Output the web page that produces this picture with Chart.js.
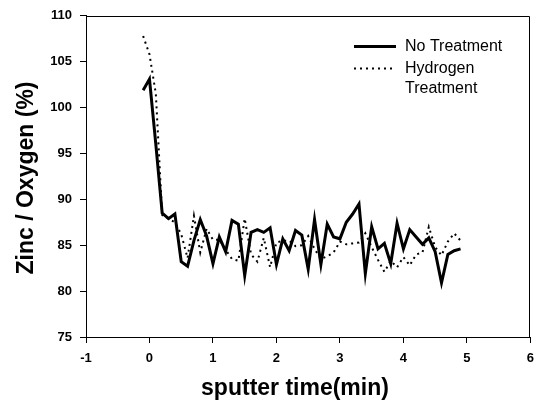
<!DOCTYPE html>
<html>
<head>
<meta charset="utf-8">
<script src="https://cdn.jsdelivr.net/npm/chart.js@4.4.1/dist/chart.umd.min.js"></script>
<style>
  body { margin: 0; background: #fff; }
</style>
</head>
<body>
<canvas id="zincChart" width="542" height="405"></canvas>
<script>
// ---- data ----
const sputterTime = [-0.1, 0.0, 0.1, 0.2, 0.3, 0.4, 0.5, 0.6, 0.7, 0.8, 0.9,
  1.0, 1.1, 1.2, 1.3, 1.4, 1.5, 1.6, 1.7, 1.8, 1.9,
  2.0, 2.1, 2.2, 2.3, 2.4, 2.5, 2.6, 2.7, 2.8, 2.9,
  3.0, 3.1, 3.2, 3.3, 3.4, 3.5, 3.6, 3.7, 3.8, 3.9,
  4.0, 4.1, 4.2, 4.3, 4.4, 4.5, 4.6, 4.7, 4.8, 4.9];

const noTreatment = [101.9, 103.1, 96.0, 88.5, 87.9, 88.4, 83.2, 82.7, 85.5, 87.8, 86.0,
  83.0, 85.9, 84.3, 87.7, 87.3, 81.7, 86.4, 86.7, 86.4, 86.9,
  82.9, 85.7, 84.4, 86.6, 86.1, 82.4, 87.8, 82.9, 87.3, 85.9,
  85.7, 87.5, 88.4, 89.5, 81.9, 87.0, 84.6, 85.2, 83.0, 87.4,
  84.6, 86.7, 85.9, 85.1, 85.8, 84.3, 80.9, 84.0, 84.4, 84.6];

const hydrogenTreatment = [107.8, 105.8, 101.5, 88.3, 87.9, 87.5, 86.2, 83.6, 88.2, 84.2, 86.8,
  85.6, 85.6, 84.5, 83.5, 83.3, 87.9, 84.0, 83.2, 85.8, 82.6,
  85.3, 85.5, 85.5, 84.9, 85.0, 86.0, 84.6, 83.5, 83.8, 84.2,
  85.4, 85.1, 85.2, 85.3, 86.3, 84.8, 83.4, 82.1, 83.3, 82.6,
  83.7, 82.8, 84.0, 84.2, 87.0, 84.8, 83.9, 85.4, 86.3, 85.5];

const xTicks = [-1, 0, 1, 2, 3, 4, 5, 6];
const yTicks = [75, 80, 85, 90, 95, 100, 105, 110];

const seriesNames = ["No Treatment", ["Hydrogen", "Treatment"]];

// ---- frame, legend and axis titles ----
const extras = {
  id: "extras",
  afterDraw(chart) {
    const ctx = chart.ctx;
    const a = chart.chartArea;
    ctx.save();
    ctx.strokeStyle = "#000";
    ctx.lineWidth = 1;
    ctx.beginPath();
    ctx.moveTo(Math.round(a.left) + 0.5, Math.round(a.top) + 0.5);
    ctx.lineTo(Math.round(a.right) - 0.5, Math.round(a.top) + 0.5);
    ctx.lineTo(Math.round(a.right) - 0.5, Math.round(a.bottom));
    ctx.stroke();

    // legend
    ctx.fillStyle = "#000";
    ctx.font = "16px 'Liberation Sans', Arial, sans-serif";
    ctx.textBaseline = "middle";
    ctx.textAlign = "left";
    const rows = [46.5, 68.5];
    chart.data.datasets.forEach((ds, i) => {
      ctx.beginPath();
      ctx.lineWidth = ds.borderWidth;
      ctx.setLineDash(ds.borderDash || []);
      ctx.moveTo(354, rows[i]);
      ctx.lineTo(396, rows[i]);
      ctx.stroke();
      const name = seriesNames[i];
      const lines = Array.isArray(name) ? name : [name];
      lines.forEach((t, j) => ctx.fillText(t, 405, rows[i] + j * 20));
    });
    ctx.setLineDash([]);

    // axis titles
    ctx.font = "bold 23px 'Liberation Sans', Arial, sans-serif";
    ctx.textAlign = "center";
    ctx.textBaseline = "alphabetic";
    ctx.fillText("sputter time(min)", 295, 395);
    ctx.translate(33, 178);
    ctx.rotate(-Math.PI / 2);
    ctx.fillText("Zinc / Oxygen (%)", 0, 0);
    ctx.restore();
  }
};

Chart.defaults.font.family = "'Liberation Sans', Arial, sans-serif";
Chart.defaults.color = "#000";

new Chart(document.getElementById("zincChart"), {
  type: "line",
  data: {
    datasets: [
      {
        label: "No Treatment",
        data: sputterTime.map((t, i) => ({ x: t, y: noTreatment[i] })),
        borderColor: "#000",
        borderWidth: 3,
        pointRadius: 0,
        fill: false
      },
      {
        label: "Hydrogen Treatment",
        data: sputterTime.map((t, i) => ({ x: t, y: hydrogenTreatment[i] })),
        borderColor: "#000",
        borderWidth: 2,
        borderDash: [2, 4],
        pointRadius: 0,
        fill: false
      }
    ]
  },
  options: {
    responsive: false,
    animation: false,
    layout: { padding: { top: 14, right: 6, left: 0, bottom: 0 } },
    plugins: {
      legend: { display: false },
      tooltip: { enabled: false }
    },
    scales: {
      x: {
        type: "linear",
        min: xTicks[0],
        max: xTicks[xTicks.length - 1],
        afterFit: s => { s.height = 68; },
        afterBuildTicks: s => { s.ticks = xTicks.map(v => ({ value: v })); },
        grid: { drawOnChartArea: false, tickLength: 6, tickColor: "#000" },
        border: { color: "#000", width: 1 },
        ticks: { padding: 8, font: { size: 13, weight: "bold" }, maxRotation: 0 }
      },
      y: {
        min: yTicks[0],
        max: yTicks[yTicks.length - 1],
        afterFit: s => { s.width = 86; },
        afterBuildTicks: s => { s.ticks = yTicks.map(v => ({ value: v })); },
        grid: { drawOnChartArea: false, tickLength: 6, tickColor: "#000" },
        border: { color: "#000", width: 1 },
        ticks: { padding: 8, font: { size: 13, weight: "bold" } }
      }
    }
  },
  plugins: [extras]
});
</script>
</body>
</html>
